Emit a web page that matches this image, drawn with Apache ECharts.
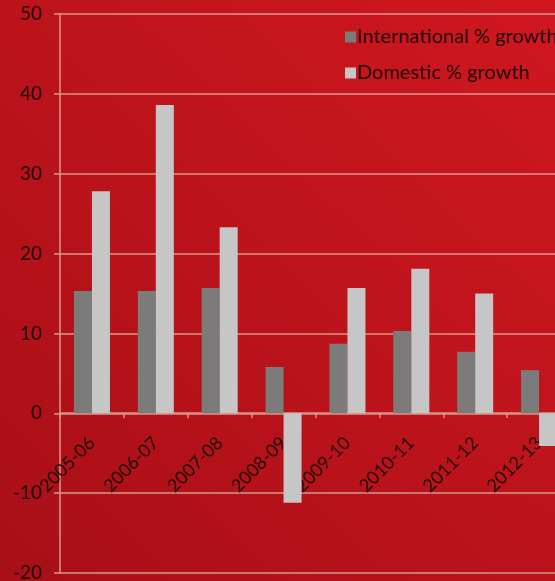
<!DOCTYPE html>
<html><head><meta charset="utf-8">
<script src="https://cdn.jsdelivr.net/npm/echarts@6/dist/echarts.min.js"></script>
<style>html,body{margin:0;padding:0;}#c{width:555px;height:581px;}</style>
</head><body><div id="c"></div>
<script>
const categories = ['2005-06','2006-07','2007-08','2008-09','2009-10','2010-11','2011-12','2012-13'];
const international = [15.3, 15.3, 15.7, 5.8, 8.7, 10.3, 7.7, 5.4];
const domestic = [27.8, 38.6, 23.3, -11.2, 15.7, 18.1, 15.0, -4.1];
const seriesNames = ['International % growth', 'Domestic % growth'];

const chart = echarts.init(document.getElementById('c'));
const lineCol = '#d49a8c';
const font = 'Lato, "Open Sans", sans-serif';
chart.setOption({
  animation: false,
  backgroundColor: new echarts.graphic.LinearGradient(1, 0, 0, 1, [
    {offset: 0, color: '#d0171f'},
    {offset: 1, color: '#a80f17'}
  ]),
  legend: {
    orient: 'vertical', left: 340, top: 22, itemGap: 16,
    itemWidth: 11, itemHeight: 11, icon: 'rect',
    textStyle: {fontFamily: font, fontSize: 20, color: '#1c0808', padding: [0,0,0,-4]},
    data: seriesNames
  },
  grid: {left: 60, top: 14, width: 511, height: 559, containLabel: false, outerBoundsMode: 'none'},
  xAxis: {
    type: 'category', data: categories, position: 'bottom', offset: -160,
    axisLine: {onZero: false, lineStyle: {color: lineCol, width: 1.5}},
    axisTick: {show: true, length: 5, lineStyle: {color: lineCol, width: 1.5}},
    axisLabel: {rotate: 45, fontFamily: font, fontSize: 18, color: '#1c0808', margin: 27}
  },
  yAxis: {
    type: 'value', min: -20, max: 50, interval: 10,
    axisLine: {show: true, lineStyle: {color: lineCol, width: 1.5}},
    axisTick: {show: true, length: 6, lineStyle: {color: lineCol, width: 1.5}},
    splitLine: {lineStyle: {color: lineCol, width: 1.5}},
    axisLabel: {fontFamily: font, fontSize: 19, color: '#1c0808', margin: 18}
  },
  series: [
    {name: seriesNames[0], type: 'bar', data: international, barWidth: 18, barGap: '0%',
     itemStyle: {color: '#7b7b7b'}},
    {name: seriesNames[1], type: 'bar', data: domestic, barWidth: 18,
     itemStyle: {color: '#c6c6c6'}}
  ]
});
</script></body></html>
